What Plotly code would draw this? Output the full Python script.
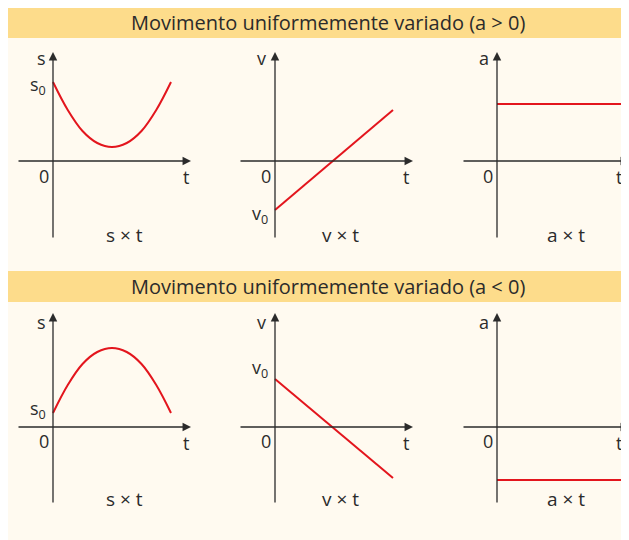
import plotly.graph_objects as go

# curve values (abstract units)
T_CURVE = [0, 0.5, 1, 1.5, 2, 2.5, 3, 3.5, 4]
S_ACCEL = [7.9, 5.1, 3.0, 1.8, 1.4, 1.8, 3.0, 5.1, 7.9]
S_DECEL = [1.4, 4.2, 6.3, 7.5, 7.9, 7.5, 6.3, 4.2, 1.4]

T_LINE = [0, 4]
V_ACCEL = [-4.9, 5.1]
V_DECEL = [4.8, -5.1]

T_ACC = [0, 4.24]
A_ACCEL = [5.7, 5.7]
A_DECEL = [-5.3, -5.3]

TITLES = ["Movimento uniformemente variado (a > 0)",
          "Movimento uniformemente variado (a < 0)"]
AXIS_NAMES = ["s", "v", "a"]
CAPTIONS = ["s × t", "v × t", "a × t"]
START_LABELS = ["s<sub>0</sub>", "v<sub>0</sub>", None]

W, H = 629, 540
OFF = 8  # page margin the figure sits behind
XU, YU = 29.5, 10.0  # pixels per unit
RED = "#e3151d"
INK = "#2b2b2b"
FONT = "Open Sans"

# layout geometry in screen pixels
COLS = [dict(left=17, right=191, ox=53, cap=124, name=41, t=186),
        dict(left=239, right=413, ox=275, cap=340, name=261, t=406),
        dict(left=462, right=629, ox=497, cap=566, name=484, t=619)]
ROWS = [dict(top=52, bottom=239, oy=161, band=(7, 38), cap=235, name=58,
             zero=176, tl=177, start=[85, 215]),
        dict(top=313, bottom=504, oy=427, band=(271, 302), cap=499, name=322,
             zero=441, tl=443, start=[409, 368])]

series = [
    [(T_CURVE, S_ACCEL, "spline"), (T_LINE, V_ACCEL, "linear"), (T_ACC, A_ACCEL, "linear")],
    [(T_CURVE, S_DECEL, "spline"), (T_LINE, V_DECEL, "linear"), (T_ACC, A_DECEL, "linear")],
]


def px(x):
    return (x - OFF) / W


def py(y):
    return 1 - (y - OFF) / H


def label(x, y, text, size=18, **kw):
    return dict(xref="paper", yref="paper", x=px(x), y=py(y), text=text,
                showarrow=False, xanchor=kw.get("xanchor", "center"),
                yanchor="middle", font=dict(size=size, color=INK, family=FONT))


fig = go.Figure()
shapes = []
annotations = []

n = 0
for r, row in enumerate(ROWS):
    b0, b1 = row["band"]
    shapes.append(dict(type="rect", xref="paper", yref="paper", x0=0, x1=1,
                       y0=py(b1), y1=min(1, py(b0)), fillcolor="#fddc8b",
                       line_width=0, layer="below"))
    annotations.append(label(328, (b0 + b1) / 2, TITLES[r], size=20))
    for c, col in enumerate(COLS):
        n += 1
        xa, ya = f"x{n}", f"y{n}"
        xr = [(col["left"] - col["ox"]) / XU, (col["right"] - col["ox"]) / XU]
        yr = [(row["oy"] - row["bottom"]) / YU, (row["oy"] - row["top"]) / YU]
        fig.update_layout(**{
            f"xaxis{n}": dict(domain=[px(col["left"]), min(1, px(col["right"]))],
                              range=xr, visible=False, anchor=ya, fixedrange=True),
            f"yaxis{n}": dict(domain=[py(row["bottom"]), py(row["top"])], range=yr,
                              visible=False, anchor=xa, fixedrange=True),
        })
        tx, ty, shape = series[r][c]
        fig.add_trace(go.Scatter(x=tx, y=ty, mode="lines", xaxis=xa, yaxis=ya,
                                 line=dict(color=RED, width=2, shape=shape),
                                 hoverinfo="skip", showlegend=False))
        # axes with arrows
        for (x, y, ax, ay) in [(xr[1], 0, xr[0], 0), (0, yr[1], 0, yr[0])]:
            annotations.append(dict(xref=xa, yref=ya, axref=xa, ayref=ya,
                                    x=x, y=y, ax=ax, ay=ay, text="",
                                    showarrow=True, arrowhead=2, arrowsize=1.3,
                                    arrowwidth=1.3, arrowcolor=INK))
        annotations.append(label(col["name"], row["name"], AXIS_NAMES[c]))
        annotations.append(label(col["ox"] - 2, row["zero"], "0", xanchor="right"))
        annotations.append(label(col["t"], row["tl"], "t"))
        annotations.append(label(col["cap"], row["cap"], CAPTIONS[c], size=19))
        if START_LABELS[c]:
            annotations.append(label(col["ox"] - 5, row["start"][c],
                                     START_LABELS[c], xanchor="right"))

fig.update_layout(width=W, height=H, margin=dict(l=0, r=0, t=0, b=0),
                  paper_bgcolor="#fffaf0", plot_bgcolor="rgba(0,0,0,0)",
                  shapes=shapes, annotations=annotations)

fig.write_html("out.html")
